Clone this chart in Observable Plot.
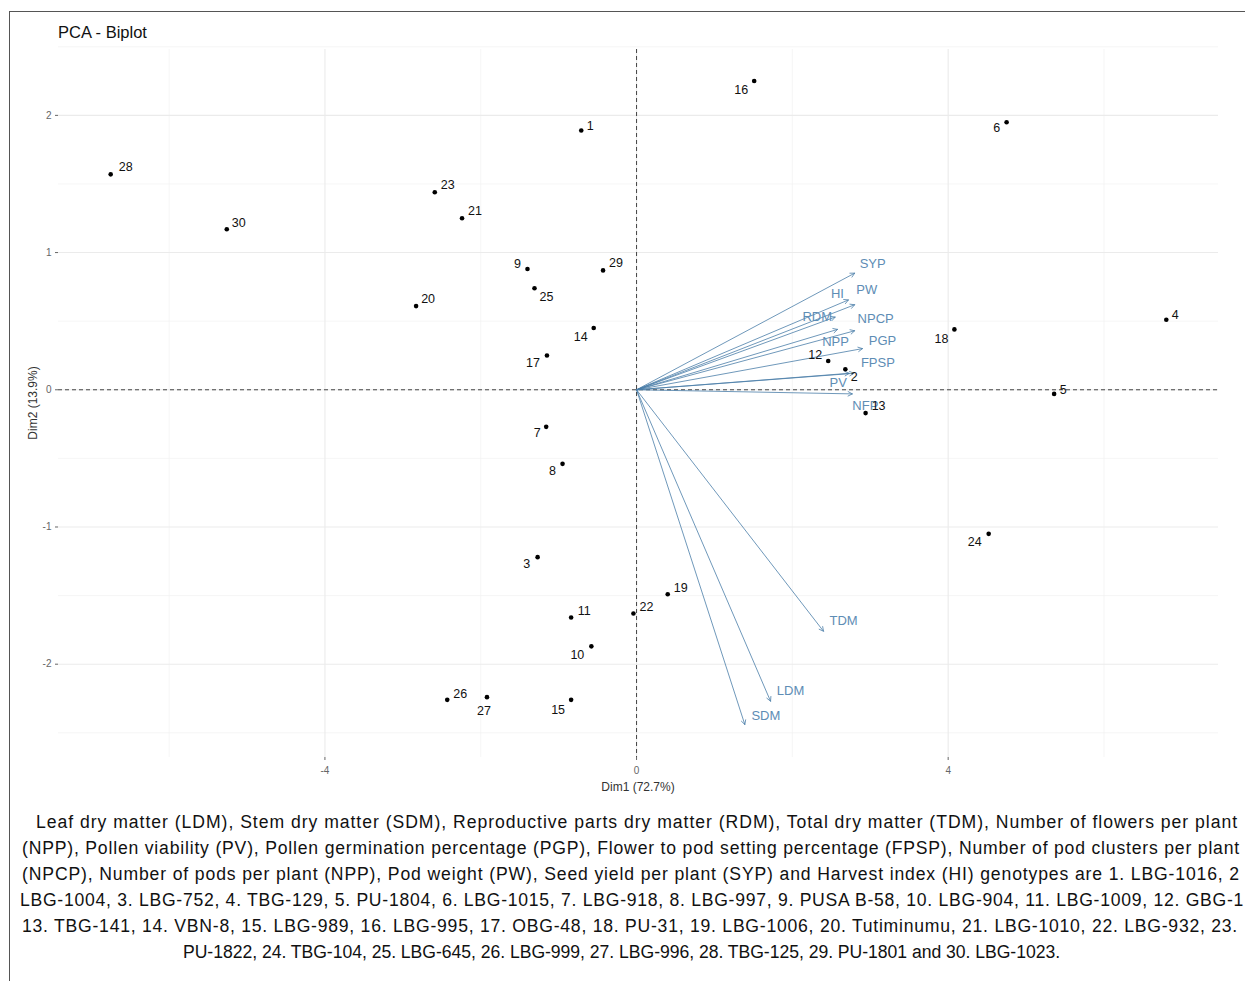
<!DOCTYPE html>
<html><head><meta charset="utf-8">
<script src="https://cdn.jsdelivr.net/npm/d3@7"></script>
<script src="https://cdn.jsdelivr.net/npm/@observablehq/plot@0.6"></script>
<style>
body{margin:0;background:#fff;font-family:"Liberation Sans",Arial,sans-serif;}
#wrap{position:relative;width:1245px;height:981px;overflow:hidden;background:#fff;}
#frame{position:absolute;left:9px;top:11px;width:1300px;height:1000px;border-left:1.5px solid #555;border-top:1.5px solid #555;pointer-events:none;}
#title{position:absolute;left:58px;top:22px;font-size:16.5px;line-height:20px;color:#111;}
#chart{position:absolute;left:0;top:0;}
.cap{position:absolute;font-size:17.6px;line-height:26px;color:#111;white-space:nowrap;}
.axt{position:absolute;font-size:12px;line-height:14px;color:#333;white-space:nowrap;}
#xlab{left:638px;top:780px;transform:translateX(-50%);}
#ylab{left:33px;top:403px;transform:translate(-50%,-50%) rotate(-90deg);}
</style></head>
<body>
<div id="wrap">
  <div id="chart"></div>
  <div id="title">PCA - Biplot</div>
  <div id="xlab" class="axt">Dim1 (72.7%)</div>
  <div id="ylab" class="axt">Dim2 (13.9%)</div>
  <div id="caption"></div>
  <div id="frame"></div>
</div>
<script>
// ---- individuals (genotypes) ----
const ids  = [1,2,3,4,5,6,7,8,9,10,11,12,13,14,15,16,17,18,19,20,21,22,23,24,25,26,27,28,29,30];
const dim1 = [-0.71,2.68,-1.27,6.80,5.36,4.75,-1.16,-0.95,-1.40,-0.58,-0.84,2.46,2.94,-0.55,-0.84,1.51,-1.15,4.08,0.40,-2.83,-2.24,-0.04,-2.59,4.52,-1.31,-2.43,-1.92,-6.75,-0.43,-5.26];
const dim2 = [1.89,0.15,-1.22,0.51,-0.03,1.95,-0.27,-0.54,0.88,-1.87,-1.66,0.21,-0.17,0.45,-2.26,2.25,0.25,0.44,-1.49,0.61,1.25,-1.63,1.44,-1.05,0.74,-2.26,-2.24,1.57,0.87,1.17];
// label nudges (px) for individuals
const ptDx = [9,9,-11,9,9,-10,-9,-10,-10,-14,13,-13,13,-13,-13,-13,-14,-13,13,12,13,13,13,-14,12,13,-3,15,13,12];
const ptDy = [-4,8,7,-5,-4,6,6,7,-5,9,-7,-6,-7,9,10,9,8,10,-6,-7,-7,-6,-7,8,9,-6,14,-7,-7,-6];

// ---- variables ----
const varNames = ["SYP","HI","PW","RDM","NPP","NPCP","PGP","FPSP","PV","NFP","TDM","LDM","SDM"];
const varDim1  = [2.80,2.72,2.80,2.55,2.58,2.80,2.90,2.79,2.73,2.77,2.40,1.72,1.39];
const varDim2  = [0.85,0.655,0.62,0.53,0.44,0.43,0.30,0.12,0.12,-0.03,-1.76,-2.27,-2.44];
// label nudges (px) for variables
const varDx = [18,-11,12,-18,-2,21,20,24,-11,13,20,20,21];
const varDy = [-9,-6,-15,0,12,-12,-8,-10,10,12,-10,-10,-9];

// ---- axes ----
const majorX = [-4,0,4];
const minorX = [-6,-2,2,6];
const majorY = [-2,-1,0,1,2];
const minorY = [-2.5,-1.5,-0.5,0.5,1.5,2.5];

// ---- caption ----
const captionLines = [
 "Leaf dry matter (LDM), Stem dry matter (SDM), Reproductive parts dry matter (RDM), Total dry matter (TDM), Number of flowers per plant",
 "(NPP), Pollen viability (PV), Pollen germination percentage (PGP), Flower to pod setting percentage (FPSP), Number of pod clusters per plant",
 "(NPCP), Number of pods per plant (NPP), Pod weight (PW), Seed yield per plant (SYP) and Harvest index (HI) genotypes are 1. LBG-1016, 2",
 "LBG-1004, 3. LBG-752, 4. TBG-129, 5. PU-1804, 6. LBG-1015, 7. LBG-918, 8. LBG-997, 9. PUSA B-58, 10. LBG-904, 11. LBG-1009, 12. GBG-1",
 "13. TBG-141, 14. VBN-8, 15. LBG-989, 16. LBG-995, 17. OBG-48, 18. PU-31, 19. LBG-1006, 20. Tutiminumu, 21. LBG-1010, 22. LBG-932, 23.",
 "PU-1822, 24. TBG-104, 25. LBG-645, 26. LBG-999, 27. LBG-996, 28. TBG-125, 29. PU-1801 and 30. LBG-1023."
];
const capLeft  = [36,22,22,20,22,183];
const capRight = [1238,1240,1240,1244,1238,1060];
const capTop = 809, capStep = 26;

const points = ids.map((id,i)=>({id:String(id), x:dim1[i], y:dim2[i], dx:ptDx[i], dy:ptDy[i]}));
const vars = varNames.map((n,i)=>({name:n, x:varDim1[i], y:varDim2[i], dx:varDx[i], dy:varDy[i]}));

const arrowColor = "#4a7ea8";
const varTextColor = "#5e8db5";
const fmt = d => String(d); // plain hyphen-minus like the reference

const varLabelMarks = vars.map(v => Plot.text([v], {x:"x", y:"y", text:"name", dx:v.dx, dy:v.dy, fill:varTextColor, fontSize:13}));
const ptLabelMarks = points.map(p => Plot.text([p], {x:"x", y:"y", text:"id", dx:p.dx, dy:p.dy, fill:"#111", fontSize:12.5}));

const chart = Plot.plot({
  width: 1245, height: 800,
  marginTop: 49, marginBottom: 43, marginLeft: 58, marginRight: 27,
  x: {domain: [-7.42, 7.47]},
  y: {domain: [-2.68, 2.48]},
  style: {fontFamily: "'Liberation Sans', Arial, sans-serif", background: "transparent", overflow: "visible"},
  marks: [
    Plot.ruleX(minorX, {stroke:"#f2f2f2", strokeWidth:0.7}),
    Plot.ruleY(minorY, {stroke:"#f2f2f2", strokeWidth:0.7}),
    Plot.ruleX(majorX, {stroke:"#ebebeb", strokeWidth:1.1}),
    Plot.ruleY(majorY, {stroke:"#ebebeb", strokeWidth:1.1}),
    Plot.axisX({ticks: majorX, tickFormat: fmt, tickSize: 3, tickPadding: 6, fontSize: 10, color: "#666", label: null}),
    Plot.axisY({ticks: majorY, tickFormat: fmt, tickSize: 3, tickPadding: 4, fontSize: 10, color: "#666", label: null}),
    Plot.ruleX([0], {stroke:"#444", strokeDasharray:"4,3", strokeWidth:1}),
    Plot.ruleY([0], {stroke:"#444", strokeDasharray:"4,3", strokeWidth:1}),
    Plot.arrow(vars, {x1: d => 0, y1: d => 0, x2: "x", y2: "y", stroke: arrowColor, strokeWidth: 0.8, headLength: 9, headAngle: 55}),
    ...varLabelMarks,
    Plot.dot(points, {x:"x", y:"y", r:2.3, fill:"#000"}),
    ...ptLabelMarks
  ]
});
document.getElementById("chart").appendChild(chart);

// caption, each line stretched to its measured span
const capDiv = document.getElementById("caption");
captionLines.forEach((t,i)=>{
  const s = document.createElement("div");
  s.className = "cap";
  s.textContent = t;
  s.style.left = capLeft[i] + "px";
  s.style.top = (capTop + i*capStep) + "px";
  capDiv.appendChild(s);
  const w = s.getBoundingClientRect().width;
  const target = capRight[i] - capLeft[i];
  s.style.letterSpacing = ((target - w) / t.length) + "px";
});
</script>
</body></html>
